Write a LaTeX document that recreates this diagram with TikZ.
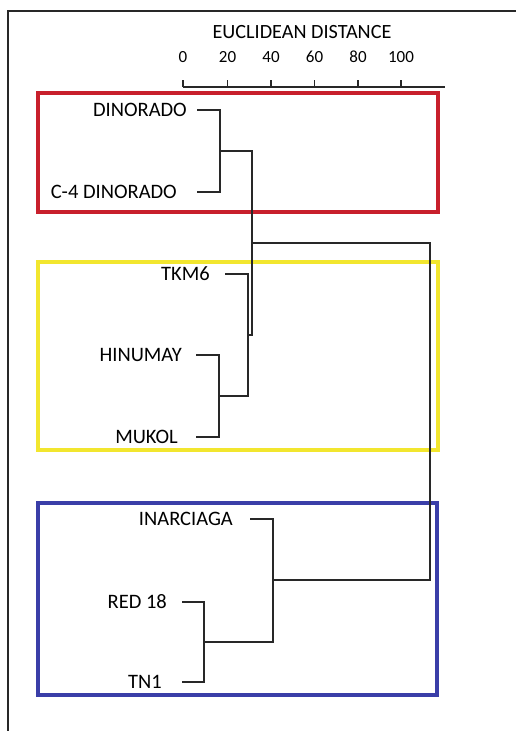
\documentclass[tikz,border=0pt]{standalone}
\usepackage{fontspec}
\setmainfont{Carlito}
\definecolor{boxred}{RGB}{200,32,44}
\definecolor{boxyellow}{RGB}{242,230,46}
\definecolor{boxblue}{RGB}{58,62,168}
\definecolor{ink}{RGB}{40,40,40}
\begin{document}
\begin{tikzpicture}[x=1pt,y=-1pt,
  lbl/.style={anchor=east,inner sep=0pt,font=\fontsize{20.5}{22}\selectfont,text=black},
  tick/.style={inner sep=0pt,font=\fontsize{17}{19}\selectfont,text=black},
  branch/.style={draw=ink,line width=1.4pt},
  group/.style={draw=#1,line width=4pt}]
\useasboundingbox (0,0) rectangle (516,731);
% outer frame (cut at right and bottom)
\draw[draw=ink,line width=1.5pt] (8,731) -- (8,11) -- (516,11);
% axis
\node[inner sep=0pt,font=\fontsize{20.2}{22}\selectfont,text=black] (title) at (302,32) {EUCLIDEAN DISTANCE};
\draw[branch] (183,87) -- (445,87);
\foreach \v/\x in {0/183,20/227.5,40/271,60/314.5,80/358,100/401}{
  \draw[branch] (\x,87) -- (\x,80);
  \node[tick] (t\v) at (\x,57) {\v};
}
% group boxes
\draw[group=boxred] (38,93) rectangle (438,212);
\draw[group=boxyellow] (38,262) rectangle (438,450);
\draw[group=boxblue] (38,503) rectangle (437,695);
% labels
\node[lbl] (din) at (187,110) {DINORADO};
\node[lbl] (c4) at (177,192) {C-4 DINORADO};
\node[lbl] (tkm) at (210,274) {TKM6};
\node[lbl] (hin) at (182,355) {HINUMAY};
\node[lbl] (muk) at (178,437) {MUKOL};
\node[lbl] (ina) at (233,519) {INARCIAGA};
\node[lbl] (red) at (167,602) {RED 18};
\node[lbl] (tn) at (162,682) {TN1};
% leaf line starts
\coordinate (ldin) at (197,110);
\coordinate (lc4) at (197,192);
\coordinate (ltkm) at (225,274);
\coordinate (lhin) at (196,355);
\coordinate (lmuk) at (196,437);
\coordinate (lina) at (250,519);
\coordinate (lred) at (182,602);
\coordinate (ltn) at (182,682);
% junctions
\coordinate (j1) at (220,151);
\coordinate (j2) at (219,396);
\coordinate (j3) at (248,335);
\coordinate (j4) at (252,243);
\coordinate (j5) at (204,642);
\coordinate (j6) at (273,580);
\coordinate (root) at (430,411.5);
% dendrogram
\draw[branch] (ldin) -| (j1) |- (lc4);
\draw[branch] (lhin) -| (j2) |- (lmuk);
\draw[branch] (ltkm) -| (j3 |- j2) -- (j2);
\draw[branch] (j1) -| (j4 |- j3) -- (j3);
\draw[branch] (lred) -| (j5) |- (ltn);
\draw[branch] (lina) -| (j6 |- j5) -- (j5);
\draw[branch] (j4) -| (root |- j6) -- (j6);
\end{tikzpicture}
\end{document}
